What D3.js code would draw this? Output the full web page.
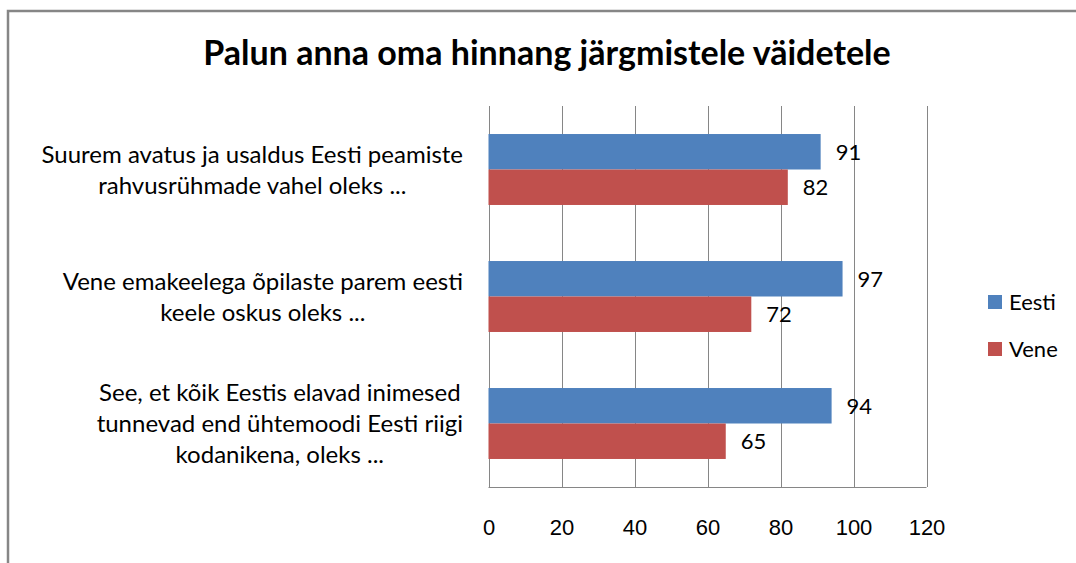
<!DOCTYPE html>
<meta charset="utf-8">
<style>
body { margin: 0; background: #fff; }
svg { display: block; font-family: Lato, "Open Sans", sans-serif; }
.grid line { stroke: #868686; stroke-width: 1; }
.x.axis path, .x.axis line { display: none; }
.x.axis text { font-size: 22px; fill: #000; }
.barLabel { font-size: 22px; fill: #000; }
.catLabel { font-size: 24px; fill: #000; text-anchor: middle; }
.legend text { font-size: 22px; fill: #000; }
</style>
<svg class="chart"></svg>
<script src="https://d3js.org/d3.v7.min.js"></script>
<script>

var title = "Palun anna oma hinnang järgmistele väidetele";
var categories = ["c1", "c2", "c3"];
var categoryLines = [
  ["Suurem avatus ja usaldus Eesti peamiste", "rahvusrühmade vahel oleks ..."],
  ["Vene emakeelega õpilaste parem eesti", "keele oskus oleks ..."],
  ["See, et kõik Eestis elavad inimesed", "tunnevad end ühtemoodi Eesti riigi", "kodanikena, oleks ..."]
];
var series = ["Eesti", "Vene"];
var eesti = [91, 97, 94];
var vene = [82, 72, 65];
var xTicks = [0, 20, 40, 60, 80, 100, 120];
var colors = ["#4F81BD", "#C0504D"];

var width = 1076, height = 563;
var svg = d3.select(".chart").attr("width", width).attr("height", height);

// chart border (runs off right and bottom edge)
svg.append("rect")
  .attr("x", 8).attr("y", 11)
  .attr("width", 1100).attr("height", 600)
  .attr("fill", "none").attr("stroke", "#868686").attr("stroke-width", 2.5);

svg.append("text")
  .attr("x", 547).attr("y", 65)
  .attr("text-anchor", "middle")
  .style("font-size", "34px").style("font-weight", "bold")
  .text(title);

var plotLeft = 488.5, plotRight = 926.5, plotTop = 106, plotBottom = 487;

var x = d3.scaleLinear().domain([0, 120]).range([plotLeft, plotRight]);
var y = d3.scaleBand().domain(categories).range([plotTop, plotBottom]);
var ySub = d3.scaleBand().domain(series).range([0, y.bandwidth()]).paddingOuter(0.79);

// gridlines
svg.append("g").attr("class", "grid")
  .selectAll("line").data(xTicks).enter().append("line")
  .attr("x1", d => Math.round(x(d)) + 0.5).attr("x2", d => Math.round(x(d)) + 0.5)
  .attr("y1", plotTop).attr("y2", plotBottom);

svg.append("line")
  .attr("x1", x(0)).attr("x2", x(120))
  .attr("y1", plotBottom + 0.5).attr("y2", plotBottom + 0.5)
  .attr("stroke", "#868686");

svg.append("g").attr("class", "x axis")
  .attr("transform", `translate(0,${plotBottom})`)
  .call(d3.axisBottom(x).tickValues(xTicks).tickSize(0).tickPadding(32));

var rows = categories.map((c, i) => ({cat: c, values: [eesti[i], vene[i]]}));

var groups = svg.selectAll(".cat").data(rows).enter().append("g")
  .attr("class", "cat")
  .attr("transform", d => `translate(0,${y(d.cat)})`);

groups.selectAll("rect").data(d => d.values.map((v, j) => ({s: series[j], v: v, j: j})))
  .enter().append("rect")
  .attr("x", x(0))
  .attr("y", d => ySub(d.s))
  .attr("width", d => x(d.v) - x(0))
  .attr("height", ySub.bandwidth())
  .attr("fill", d => colors[d.j]);

groups.selectAll(".barLabel").data(d => d.values.map((v, j) => ({s: series[j], v: v})))
  .enter().append("text")
  .attr("class", "barLabel")
  .attr("x", d => x(d.v) + 15)
  .attr("y", d => ySub(d.s) + ySub.bandwidth() / 2)
  .attr("dy", "0.36em")
  .text(d => d.v);

// category labels: block right aligned, lines centered within it
var labelRight = 463, lineH = 31;
categories.forEach((c, i) => {
  var lines = categoryLines[i];
  var g = svg.append("g");
  var texts = lines.map((ln, k) => g.append("text").attr("class", "catLabel")
    .attr("y", y(c) + y.bandwidth() / 2 + (k - (lines.length - 1) / 2) * lineH)
    .attr("dy", "0.36em").text(ln));
  var maxW = d3.max(texts, t => t.node().getComputedTextLength());
  texts.forEach(t => t.attr("x", labelRight - maxW / 2));
});

// legend
var legend = svg.append("g").attr("class", "legend");
series.forEach((s, i) => {
  var ly = 302 + i * 47;
  legend.append("rect").attr("x", 988).attr("y", ly - 7).attr("width", 14).attr("height", 14).attr("fill", colors[i]);
  legend.append("text").attr("x", 1009).attr("y", ly).attr("dy", "0.36em").text(s);
});

</script>
